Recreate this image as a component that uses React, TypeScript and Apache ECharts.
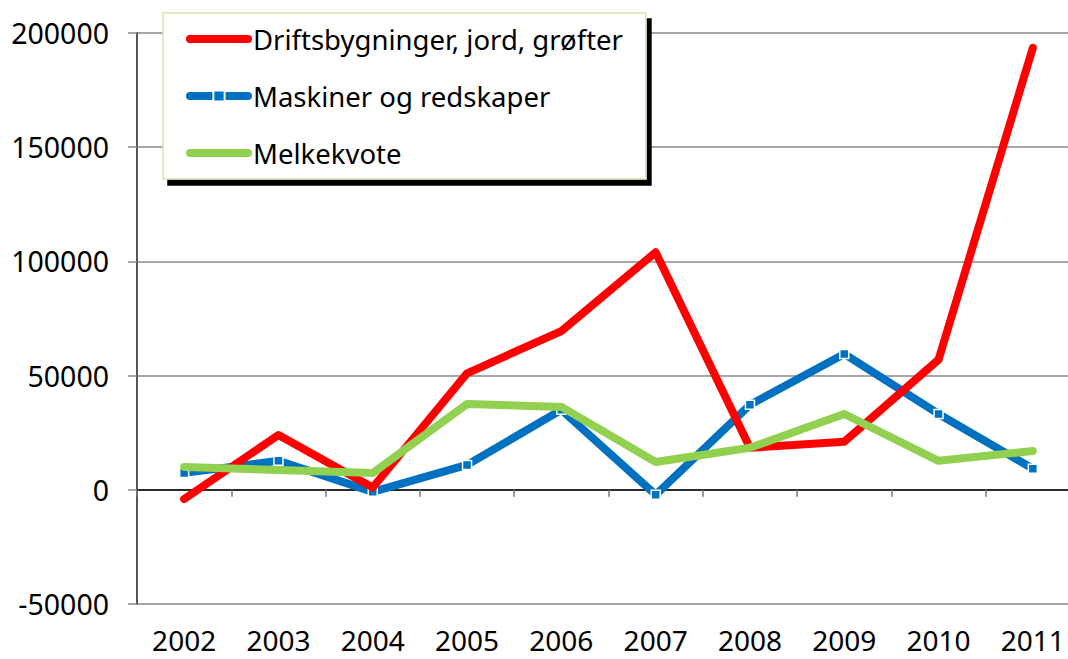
import React, { useEffect, useRef } from "react";
import * as echarts from "echarts";

const years = ["2002", "2003", "2004", "2005", "2006", "2007", "2008", "2009", "2010", "2011"];
const drifts = [-4000, 24000, 1000, 51000, 69500, 104000, 18400, 21000, 57000, 193500];
const maskiner = [7400, 12700, -900, 10900, 35000, -2200, 37200, 59500, 33200, 9200];
const melk = [10000, 8700, 7400, 37600, 36300, 12200, 18400, 33200, 12700, 17000];
const seriesNames = ["Driftsbygninger, jord, grøfter", "Maskiner og redskaper", "Melkekvote"];

const FONT = "'Noto Sans', 'Open Sans', sans-serif";

export default function App() {
  const ref = useRef<HTMLDivElement>(null);
  useEffect(() => {
    document.body.style.margin = "0";
    document.body.style.overflow = "hidden";
    const chart = echarts.init(ref.current!, null, { renderer: "svg" });
    chart.setOption({
      animation: false,
      backgroundColor: "#ffffff",
      textStyle: { fontFamily: FONT },
      grid: { left: 137, top: 33, width: 943, height: 571, containLabel: false },
      legend: {
        show: true,
        orient: "vertical",
        left: 163,
        top: 13,
        padding: [12, 23, 12, 23],
        itemGap: 29,
        itemWidth: 58,
        itemHeight: 14,
        backgroundColor: "#ffffff",
        borderColor: "#d7e2b8",
        borderWidth: 1.5,
        shadowColor: "#000000",
        shadowBlur: 0,
        shadowOffsetX: 5,
        shadowOffsetY: 6,
        lineStyle: { width: 8, cap: "round" },
        textStyle: { fontFamily: FONT, fontSize: 27.5, color: "#000" },
        data: [
          { name: seriesNames[0], itemStyle: { opacity: 0 } },
          { name: seriesNames[1] },
          { name: seriesNames[2], itemStyle: { opacity: 0 } },
        ],
      },
      xAxis: [
        {
          type: "category",
          data: years,
          boundaryGap: true,
          position: "bottom",
          axisLine: { show: true, onZero: true, lineStyle: { color: "#000", width: 1.5 } },
          axisTick: { show: true, inside: false, length: 7, lineStyle: { color: "#777", width: 1.5 } },
          axisLabel: { show: false },
          splitLine: { show: false },
        },
        {
          type: "category",
          data: years,
          boundaryGap: true,
          position: "bottom",
          axisLine: { show: false, onZero: false },
          axisTick: { show: false },
          axisLabel: { show: true, fontSize: 28, color: "#000", fontFamily: FONT, margin: 22 },
          splitLine: { show: false },
        },
      ],
      yAxis: {
        type: "value",
        min: -50000,
        max: 200000,
        interval: 50000,
        axisLine: { show: true, lineStyle: { color: "#555", width: 2 } },
        axisTick: { show: true, inside: false, length: 9, lineStyle: { color: "#888", width: 1.5 } },
        axisLabel: {
          fontSize: 28.5,
          color: "#000",
          fontFamily: FONT,
          margin: 28,
          formatter: (v: number) => String(v),
        },
        splitLine: { show: true, lineStyle: { color: "#888", width: 1.5 } },
      },
      series: [
        {
          name: seriesNames[0],
          type: "line",
          xAxisIndex: 0,
          data: drifts,
          symbol: "none",
          color: "#ff0000",
          lineStyle: { color: "#ff0000", width: 8, cap: "round", join: "round" },
          z: 3,
        },
        {
          name: seriesNames[1],
          type: "line",
          xAxisIndex: 0,
          data: maskiner,
          symbol: "rect",
          symbolSize: 9,
          showSymbol: true,
          color: "#0070c0",
          itemStyle: { color: "#0070c0", borderColor: "#ffffff", borderWidth: 1.5 },
          lineStyle: { color: "#0070c0", width: 8, join: "round" },
          z: 2,
        },
        {
          name: seriesNames[2],
          type: "line",
          xAxisIndex: 0,
          data: melk,
          symbol: "none",
          color: "#92d050",
          lineStyle: { color: "#92d050", width: 8, cap: "round", join: "round" },
          z: 4,
        },
      ],
    });
    return () => chart.dispose();
  }, []);
  return (
    <div style={{ position: "absolute", left: 0, top: 0, width: 1068, height: 659, overflow: "hidden" }}>
      <div
        ref={ref}
        style={{ position: "absolute", left: 0, top: 0, width: 1085, height: 659 }}
      />
    </div>
  );
}
